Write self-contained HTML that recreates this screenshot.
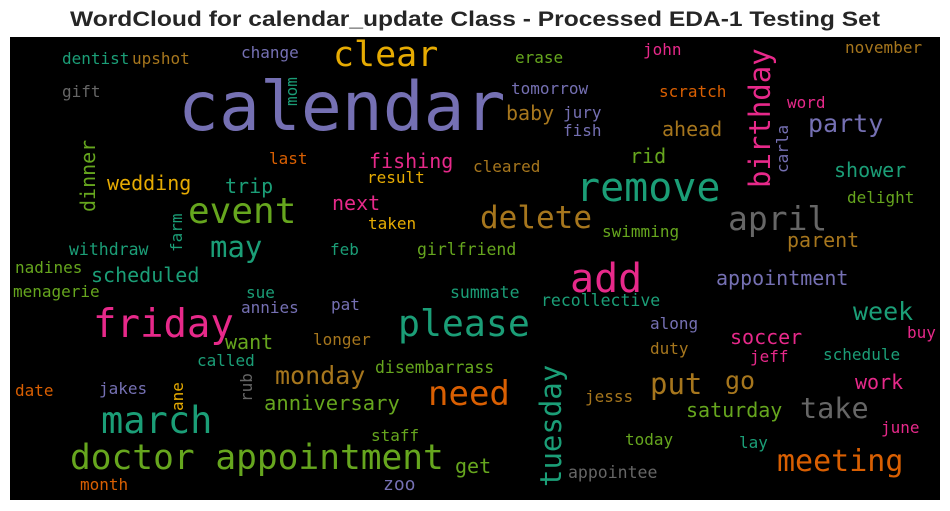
<!DOCTYPE html>
<html><head><meta charset="utf-8"><style>
html,body{margin:0;padding:0;background:#fff;width:950px;height:511px;overflow:hidden}
svg text{font-family:"DejaVu Sans Mono","Liberation Mono",monospace}
</style></head><body>
<svg id="chart" width="950" height="511" xmlns="http://www.w3.org/2000/svg">
<text x="475" y="26" text-anchor="middle" style="font-family:'Liberation Sans',Arial,sans-serif;font-weight:bold;font-size:21px" fill="#262626" textLength="810" lengthAdjust="spacingAndGlyphs">WordCloud for calendar_update Class - Processed EDA-1 Testing Set</text>
<rect x="10" y="37" width="930" height="463" fill="#000"/>
<g id="words"></g>
</svg>
<script>
// word, font size (weight), color index, x, baseline y, vertical
const words = ["calendar","clear","dentist","upshot","change","gift","last","fishing","result","wedding","trip","event","next","taken","may","withdraw","feb","girlfriend","nadines","scheduled","menagerie","sue","annies","pat","summate","friday","please","want","longer","called","disembarrass","monday","date","jakes","anniversary","need","march","staff","doctor appointment","get","month","zoo","erase","john","november","tomorrow","scratch","word","baby","jury","fish","ahead","party","rid","cleared","remove","shower","delight","delete","april","swimming","parent","add","appointment","recollective","week","along","soccer","buy","duty","jeff","schedule","put","go","work","jesss","saturday","take","june","today","lay","meeting","appointee","mom","dinner","farm","ane","rub","birthday","carla","tuesday"];
const sizes = [68,35,16,16,16,16,16,20,16,20,20,36,20,16,29,16.5,16,16.5,16,20,16,16,16,16,16.5,39,36.5,20,16,16,16.5,25,16,16,20.5,34,37,16,34.5,20,16,18,16,16,16,16,16,16,20,16,16,20,25,20,16,40,20,16,31,33,16,20,40,20,16.5,25,16,20,16,16,16,16,29,25,20,16,20,28.5,16,16,16,30,16.5,16,20,16,16,16,29,16,29];
const colorIdx = [2,5,0,6,2,7,1,3,5,5,0,4,3,5,0,0,0,4,4,0,4,0,2,2,0,3,0,4,6,0,4,6,1,2,4,1,0,4,4,4,1,2,4,3,6,2,1,3,6,2,2,6,2,4,6,0,0,4,6,7,4,6,3,2,0,0,2,3,3,6,3,0,6,6,3,6,4,7,3,4,0,1,7,0,4,0,5,7,3,2,0];
const xs = [178,333,62,132,241,62,269,369,367,107,225,188,332,368,210,69,330,417,15,91,13,246,241,331,450,93,398,225,313,197,375,275,15,99,264,428,101,371,70,455,80,383,515,643,845,511,659,787,506,563,563,662,808,630,473,576,834,847,480,728,602,787,570,716,541,853,650,730,907,650,750,823,650,725,855,585,686,800,881,625,739,777,568,297,95,182,183,252,770,788,561];
const ys = [130,66,64,64,58,97,164,168,183,190,193,223,210,229,257,255,255,255,273,282,297,298,313,310,298,337,336,349,345,366,373,384,396,394,410,405,433,441,469,473,490,490,63,55,53,94,97,108,120,118,136,136,132,163,172,201,177,203,228,230,237,247,292,285,306,320,329,344,338,354,362,360,394,389,389,402,417,418,433,445,448,471,478,106,212,252,411,402,188,173,487];
const vertical = words.map((w,i)=>i>=83);
const palette = ["#1b9e77","#d95f02","#7570b3","#e7298a","#66a61e","#e6ab02","#a6761d","#666666"];
const g = document.getElementById('words');
const NS = "http://www.w3.org/2000/svg";
words.forEach((w,i)=>{
  const t = document.createElementNS(NS,'text');
  
  
  t.setAttribute('font-size', sizes[i]);
  t.setAttribute('fill', palette[colorIdx[i]]);
  t.setAttribute('textLength', (sizes[i]*0.602*w.length).toFixed(1));
  t.setAttribute('lengthAdjust', 'spacingAndGlyphs');
  if (vertical[i]) {
    t.setAttribute('transform', 'translate(' + xs[i] + ',' + ys[i] + ') rotate(-90)');
    t.setAttribute('x', 0); t.setAttribute('y', 0);
  } else {
    t.setAttribute('x', xs[i]); t.setAttribute('y', ys[i]);
  }
  t.textContent = w;
  g.appendChild(t);
});
</script>
</body></html>
